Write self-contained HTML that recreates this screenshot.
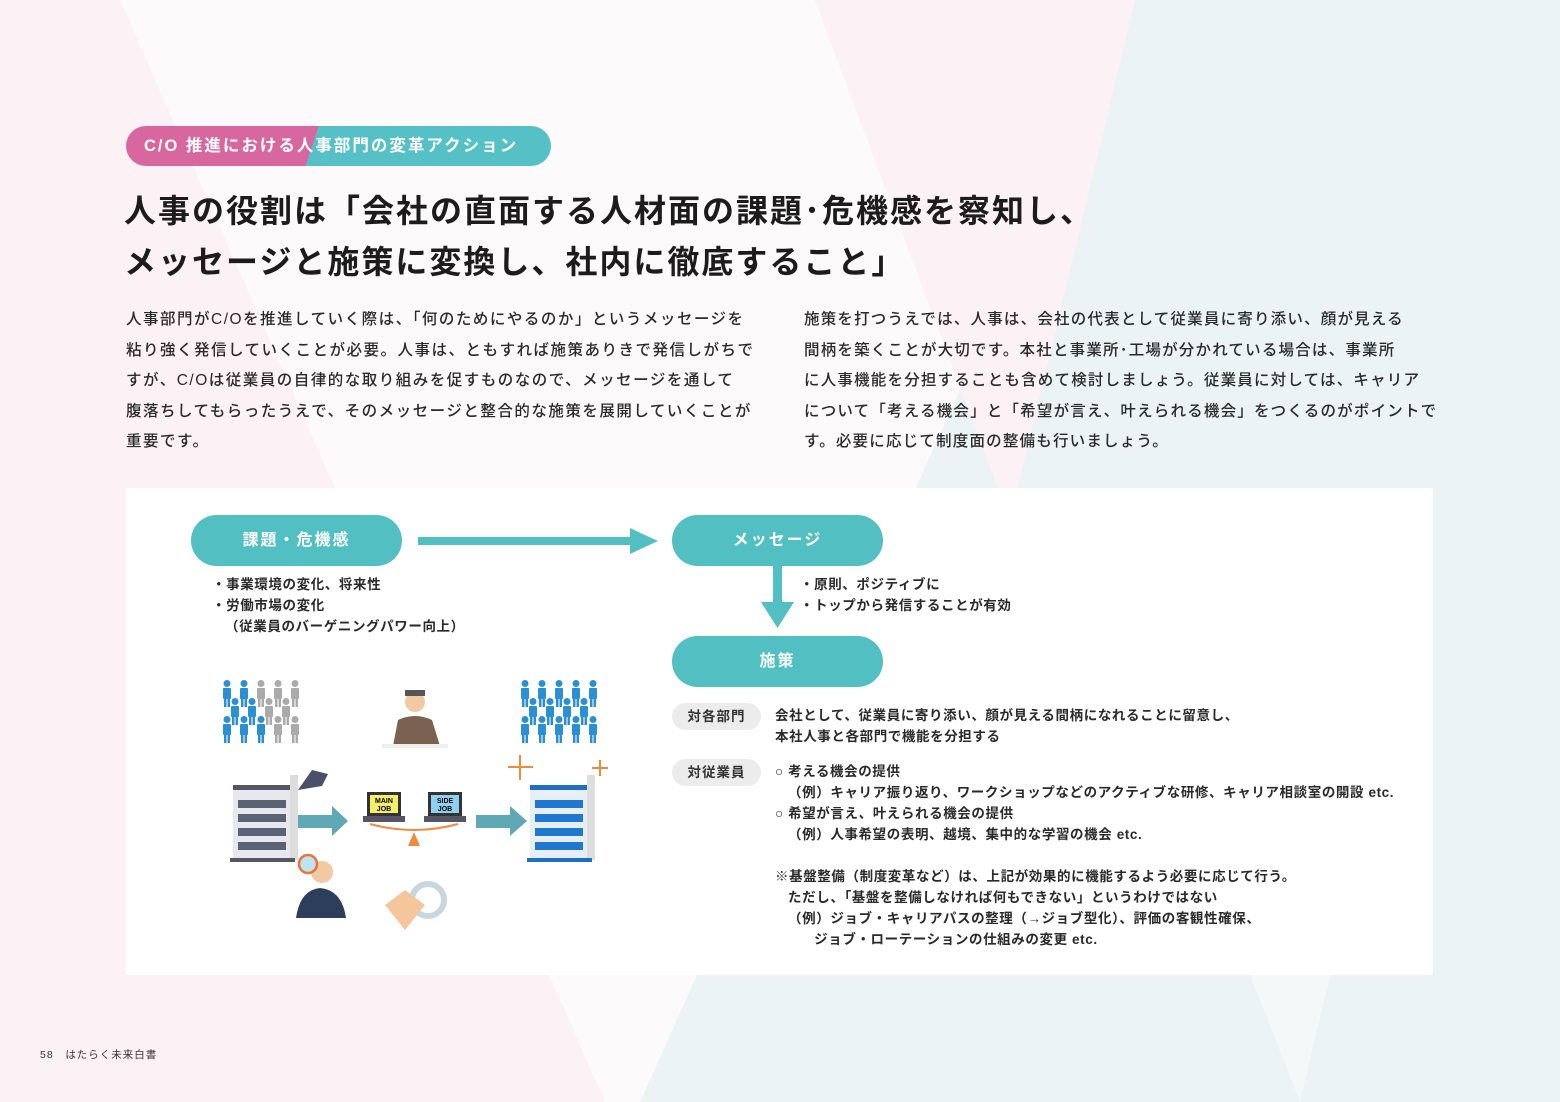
<!DOCTYPE html>
<html><head><meta charset="utf-8"><style>
*{margin:0;padding:0;box-sizing:border-box}
body{width:1560px;height:1102px;position:relative;overflow:hidden;background:#fdfafb;font-family:"Liberation Sans","Noto Sans CJK JP",sans-serif;color:#222}
.abs{position:absolute}
.pill{position:absolute;left:126px;top:126px;width:425px;height:40px;border-radius:20px;background:linear-gradient(108deg,#d9679f 0,#d9679f 44%,#55c1c6 44%,#55c1c6 100%);color:#fff;font-weight:bold;font-size:16.5px;letter-spacing:2px;line-height:40px;padding-left:18px}
h1{position:absolute;left:124px;font-size:32px;font-weight:bold;letter-spacing:2px;color:#1c1c1c;white-space:nowrap}
.body{position:absolute;top:305px;font-size:15.5px;line-height:30.5px;letter-spacing:1.2px;color:#2a2a2a;font-weight:500;white-space:nowrap}
.panel{position:absolute;left:126px;top:488px;width:1307px;height:487px;background:#fff}
.node{position:absolute;width:211px;height:51px;border-radius:26px;background:#52bfc3;color:#fff;font-weight:bold;font-size:16px;letter-spacing:2px;text-align:center;line-height:51px}
.t{position:absolute;font-size:13.5px;font-weight:bold;letter-spacing:.6px;line-height:21px;color:#2a2a2a;white-space:nowrap}
.tag{position:absolute;left:672px;width:89px;height:27px;border-radius:14px;background:#ececec;font-size:13.5px;font-weight:bold;text-align:center;line-height:27px;letter-spacing:1px;color:#333}
</style></head><body>
<svg class="abs" style="left:0;top:0" width="1560" height="1102">
<polygon points="0,0 120,0 605,1102 0,1102" fill="#fcf1f5"/>
<polygon points="1135,0 1560,0 1560,1102 640,1102" fill="#ebf3f5"/>
<polygon points="815,0 1135,0 1010,520" fill="#fcf1f5"/>
<polygon points="1250,975 1330,975 1300,1102" fill="#f3f8f9"/>
</svg>
<div class="pill">C/O 推進における人事部門の変革アクション</div>
<h1 style="top:186px">人事の役割は「会社の直面する人材面の課題･危機感を察知し、</h1>
<h1 style="top:237px">メッセージと施策に変換し、社内に徹底すること」</h1>
<div class="body" style="left:126px;letter-spacing:1.5px">人事部門がC/Oを推進していく際は、「何のためにやるのか」というメッセージを<br>粘り強く発信していくことが必要。人事は、ともすれば施策ありきで発信しがちで<br>すが、C/Oは従業員の自律的な取り組みを促すものなので、メッセージを通して<br>腹落ちしてもらったうえで、そのメッセージと整合的な施策を展開していくことが<br>重要です。</div>
<div class="body" style="left:804px">施策を打つうえでは、人事は、会社の代表として従業員に寄り添い、顔が見える<br>間柄を築くことが大切です。本社と事業所･工場が分かれている場合は、事業所<br>に人事機能を分担することも含めて検討しましょう。従業員に対しては、キャリア<br>について「考える機会」と「希望が言え、叶えられる機会」をつくるのがポイントで<br>す。必要に応じて制度面の整備も行いましょう。</div>
<div class="panel"></div>
<div class="node" style="left:191px;top:515px">課題・危機感</div>
<div class="node" style="left:672px;top:515px">メッセージ</div>
<div class="node" style="left:672px;top:636px">施策</div>
<svg class="abs" style="left:0;top:0" width="1560" height="1102">
<defs>
<g id="man"><circle cx="4" cy="3.5" r="3.5"/><rect x="0" y="8" width="8" height="11" rx="1"/><rect x="1" y="18" width="2.5" height="9"/><rect x="4.5" y="18" width="2.5" height="9"/></g>
</defs>
<rect x="418" y="537" width="215" height="8" fill="#52bfc3"/>
<polygon points="630,528 658,541 630,554" fill="#52bfc3"/>
<rect x="773" y="566" width="9" height="38" fill="#52bfc3"/>
<polygon points="761,602 794,602 777.5,628" fill="#52bfc3"/>
<g fill="#2b8fd4">
<use href="#man" x="223" y="680"/><use href="#man" x="240" y="680"/>
<use href="#man" x="231" y="698"/><use href="#man" x="248" y="698"/>
<use href="#man" x="223" y="716"/><use href="#man" x="240" y="716"/><use href="#man" x="257" y="716"/>
</g>
<g fill="#aaaaaa">
<use href="#man" x="257" y="680"/><use href="#man" x="274" y="680"/><use href="#man" x="291" y="680"/>
<use href="#man" x="265" y="698"/><use href="#man" x="282" y="698"/>
<use href="#man" x="274" y="716"/><use href="#man" x="291" y="716"/>
</g>
<g fill="#2b8fd4">
<use href="#man" x="521" y="680"/><use href="#man" x="538" y="680"/><use href="#man" x="555" y="680"/><use href="#man" x="572" y="680"/><use href="#man" x="589" y="680"/>
<use href="#man" x="529" y="698"/><use href="#man" x="546" y="698"/><use href="#man" x="563" y="698"/><use href="#man" x="580" y="698"/>
<use href="#man" x="521" y="716"/><use href="#man" x="538" y="716"/><use href="#man" x="555" y="716"/><use href="#man" x="572" y="716"/><use href="#man" x="589" y="716"/>
</g>
<circle cx="415" cy="702" r="10" fill="#f2c9a0"/><rect x="405" y="690" width="20" height="6" fill="#555"/>
<path d="M393 746 L398 720 Q415 712 432 720 L440 746Z" fill="#7a6150"/>
<rect x="382" y="744" width="66" height="4" fill="#eee"/>
<rect x="233" y="785" width="58" height="75" fill="#e8e8ec"/><rect x="233" y="785" width="58" height="5" fill="#556"/>
<rect x="290" y="775" width="8" height="85" fill="#ddd"/><rect x="230" y="858" width="65" height="4" fill="#556"/>
<g fill="#5a6275"><rect x="238" y="800" width="48" height="8"/><rect x="238" y="814" width="48" height="8"/><rect x="238" y="828" width="48" height="8"/><rect x="238" y="842" width="48" height="8"/></g>
<polygon points="298,790 312,770 328,774 322,786" fill="#4a5068"/>
<rect x="530" y="785" width="58" height="75" fill="#e8eef5"/><rect x="530" y="785" width="58" height="5" fill="#1e6fc2"/>
<rect x="587" y="775" width="8" height="85" fill="#ddd"/><rect x="527" y="858" width="65" height="4" fill="#1e6fc2"/>
<g fill="#1e78d0"><rect x="535" y="800" width="48" height="8"/><rect x="535" y="814" width="48" height="8"/><rect x="535" y="828" width="48" height="8"/><rect x="535" y="842" width="48" height="8"/></g>
<g stroke="#f08a3c" stroke-width="2"><path d="M520 755v25M508 767h25M600 760v16M592 768h16"/></g>
<rect x="298" y="815" width="35" height="13" fill="#5ea9b5"/><polygon points="332,806 348,821 332,836" fill="#5ea9b5"/>
<rect x="476" y="815" width="35" height="13" fill="#5ea9b5"/><polygon points="510,806 527,821 510,836" fill="#5ea9b5"/>
<rect x="367" y="792" width="34" height="24" fill="#333"/><rect x="370" y="795" width="28" height="18" fill="#f5ee6a"/>
<text x="384" y="803" font-size="7" font-weight="bold" text-anchor="middle" font-family="Liberation Sans">MAIN</text><text x="384" y="811" font-size="7" font-weight="bold" text-anchor="middle" font-family="Liberation Sans">JOB</text>
<rect x="363" y="816" width="42" height="6" fill="#556"/>
<rect x="428" y="792" width="34" height="24" fill="#333"/><rect x="431" y="795" width="28" height="18" fill="#8fd0f0"/>
<text x="445" y="803" font-size="7" font-weight="bold" text-anchor="middle" font-family="Liberation Sans">SIDE</text><text x="445" y="811" font-size="7" font-weight="bold" text-anchor="middle" font-family="Liberation Sans">JOB</text>
<rect x="424" y="816" width="42" height="6" fill="#556"/>
<path d="M370 824 Q414 836 458 824" stroke="#f08a3c" stroke-width="2" fill="none"/>
<polygon points="408,846 420,846 414,832" fill="#f08a3c"/>
<path d="M296 918 Q300 890 320 888 Q342 890 346 918Z" fill="#2c3e5a"/>
<circle cx="322" cy="872" r="11" fill="#f2c9a0"/><circle cx="308" cy="864" r="9" fill="#bfe3ef" stroke="#e8743a" stroke-width="2.5"/>
<circle cx="428" cy="900" r="16" fill="none" stroke="#c8d6e0" stroke-width="6"/>
<path d="M385 905 L405 890 L425 905 L405 930Z" fill="#f5c59b"/>
</svg>
<div class="t" style="left:212px;top:574px">・事業環境の変化、将来性<br>・労働市場の変化<br>&nbsp;&nbsp;&nbsp;（従業員のバーゲニングパワー向上）</div>
<div class="t" style="left:800px;top:574px">・原則、ポジティブに<br>・トップから発信することが有効</div>
<div class="tag" style="top:703px">対各部門</div>
<div class="tag" style="top:759px">対従業員</div>
<div class="t" style="left:775px;top:705px">会社として、従業員に寄り添い、顔が見える間柄になれることに留意し、<br>本社人事と各部門で機能を分担する</div>
<div class="t" style="left:775px;top:761px">○ 考える機会の提供<br>&nbsp;&nbsp;&nbsp;（例）キャリア振り返り、ワークショップなどのアクティブな研修、キャリア相談室の開設 etc.<br>○ 希望が言え、叶えられる機会の提供<br>&nbsp;&nbsp;&nbsp;（例）人事希望の表明、越境、集中的な学習の機会 etc.<br><br>※基盤整備（制度変革など）は、上記が効果的に機能するよう必要に応じて行う。<br>&nbsp;&nbsp;&nbsp;ただし、「基盤を整備しなければ何もできない」というわけではない<br>&nbsp;&nbsp;&nbsp;（例）ジョブ・キャリアパスの整理（→ジョブ型化）、評価の客観性確保、<br>&nbsp;&nbsp;&nbsp;&nbsp;&nbsp;&nbsp;&nbsp;&nbsp;&nbsp;ジョブ・ローテーションの仕組みの変更 etc.</div>
<div class="abs" style="left:40px;top:1047px;font-size:10.5px;color:#333;letter-spacing:1px">58&nbsp;&nbsp;&nbsp;はたらく未来白書</div>
</body></html>
